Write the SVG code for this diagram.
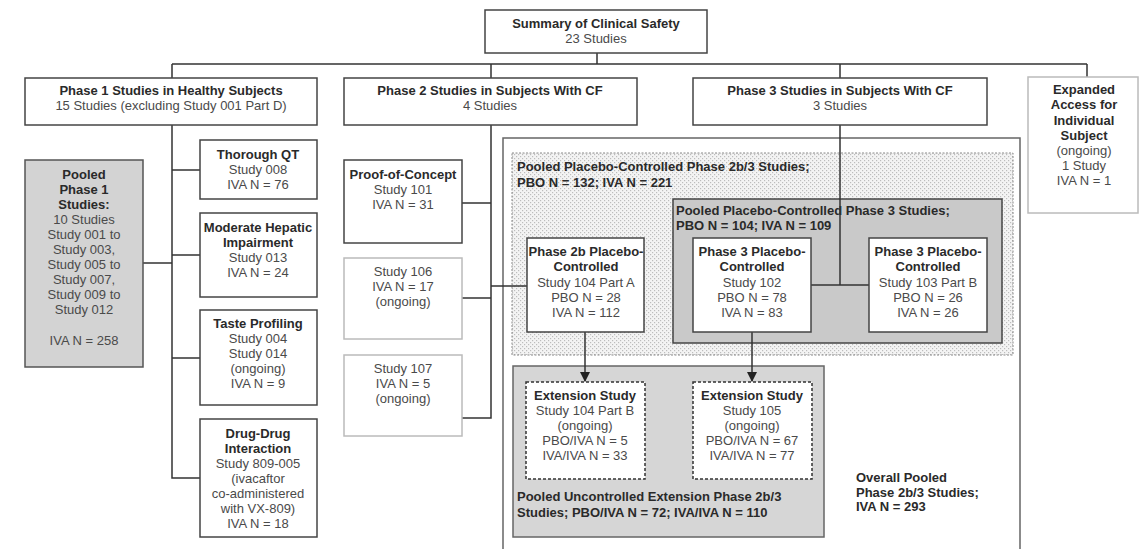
<svg xmlns="http://www.w3.org/2000/svg" width="1139" height="549" viewBox="0 0 1139 549">
<defs>
<pattern id="dots" width="4" height="4" patternUnits="userSpaceOnUse">
<rect width="4" height="4" fill="#f4f4f4"/>
<rect x="0" y="0" width="1.2" height="1.2" fill="#bdbdbd"/>
<rect x="2" y="2" width="1.2" height="1.2" fill="#bdbdbd"/>
</pattern>
<marker id="arr" viewBox="0 0 10 10" refX="9" refY="5" markerWidth="7" markerHeight="7" orient="auto">
<path d="M0,0 L10,5 L0,10 z" fill="#222"/>
</marker>
</defs>
<style>
text{font-family:"Liberation Sans",Arial,sans-serif;font-size:13px;fill:#4a4a4a;text-anchor:middle}
.b{font-weight:bold;fill:#2a2a2a}
.l{text-anchor:start}
.box{fill:#fff;stroke:#444;stroke-width:1.5}
.lt{fill:#fff;stroke:#bbb;stroke-width:1.5}
.grey{fill:#d3d3d3;stroke:#555;stroke-width:1.5}
.ln{fill:none;stroke:#333;stroke-width:1.5}
.dash{fill:#fff;stroke:#333;stroke-width:1.5;stroke-dasharray:3,2}
</style>
<rect width="1139" height="549" fill="#fff"/>

<g id="overall-pooled">
<path d="M503,549 V138 H1020 V549" fill="none" stroke="#666" stroke-width="1.5"/>
<text class="b l" x="856" y="482">Overall Pooled</text>
<text class="b l" x="856" y="497">Phase 2b/3 Studies;</text>
<text class="b l" x="856" y="511">IVA N = 293</text>
</g>

<g id="pooled-pc-2b3">
<rect x="512" y="153" width="501" height="202" fill="url(#dots)" stroke="#888" stroke-width="1" stroke-dasharray="2,1.5"/>
<text class="b l" x="517" y="171">Pooled Placebo-Controlled Phase 2b/3 Studies;</text>
<text class="b l" x="517" y="187">PBO N = 132; IVA N = 221</text>
</g>

<g id="pooled-pc-3">
<rect x="673" y="199" width="329" height="144" fill="#c9c9c9" stroke="#444" stroke-width="1.5"/>
<text class="b l" x="676" y="215">Pooled Placebo-Controlled Phase 3 Studies;</text>
<text class="b l" x="676" y="230">PBO N = 104; IVA N = 109</text>
</g>

<g id="pooled-ext">
<rect x="513" y="366" width="311" height="171" fill="#d6d6d6" stroke="#666" stroke-width="1.5"/>
<text class="b l" x="517" y="501">Pooled Uncontrolled Extension Phase 2b/3</text>
<text class="b l" x="517" y="517">Studies; PBO/IVA N = 72; IVA/IVA N = 110</text>
</g>

<g id="connectors">
<path class="ln" d="M597,53 V64 M172,64 H1087 M172,64 V78 M491,64 V78 M840,64 V78 M1087,64 V77"/>
<path class="ln" d="M172,125 V478 H200 M172,170 H200 M172,255 H200 M172,358 H200 M143,263 H172"/>
<path class="ln" d="M491,125 V418 H462 M462,203 H491 M462,298 H491 M491,286 H527"/>
<path class="ln" d="M840,125 V285 M811,285 H869"/>
<path class="ln" d="M585,332 V381" marker-end="url(#arr)"/>
<path class="ln" d="M752,332 V381" marker-end="url(#arr)"/>
</g>

<g id="summary">
<rect class="box" x="485" y="10" width="222" height="43"/>
<text class="b" x="596" y="28">Summary of Clinical Safety</text>
<text x="596" y="43">23 Studies</text>
</g>

<g id="phase1">
<rect class="box" x="25" y="78" width="292" height="47"/>
<text class="b" x="171" y="95">Phase 1 Studies in Healthy Subjects</text>
<text x="171" y="110">15 Studies (excluding Study 001 Part D)</text>
</g>

<g id="phase2">
<rect class="box" x="344" y="78" width="293" height="47"/>
<text class="b" x="490" y="95">Phase 2 Studies in Subjects With CF</text>
<text x="490" y="110">4 Studies</text>
</g>

<g id="phase3">
<rect class="box" x="693" y="78" width="294" height="47"/>
<text class="b" x="840" y="95">Phase 3 Studies in Subjects With CF</text>
<text x="840" y="110">3 Studies</text>
</g>

<g id="expanded">
<rect class="lt" x="1028" y="77" width="110" height="136"/>
<text class="b" x="1084" y="94">Expanded</text>
<text class="b" x="1084" y="109">Access for</text>
<text class="b" x="1084" y="125">Individual</text>
<text class="b" x="1084" y="140">Subject</text>
<text x="1084" y="155">(ongoing)</text>
<text x="1084" y="170">1 Study</text>
<text x="1084" y="185">IVA N = 1</text>
</g>

<g id="pooled-phase1">
<rect class="grey" x="25" y="160" width="118" height="207"/>
<text class="b" x="84" y="179">Pooled</text>
<text class="b" x="84" y="194">Phase 1</text>
<text class="b" x="84" y="209">Studies:</text>
<text x="84" y="224">10 Studies</text>
<text x="84" y="239">Study 001 to</text>
<text x="84" y="254">Study 003,</text>
<text x="84" y="269">Study 005 to</text>
<text x="84" y="284">Study 007,</text>
<text x="84" y="299">Study 009 to</text>
<text x="84" y="314">Study 012</text>
<text x="84" y="345">IVA N = 258</text>
</g>

<g id="thorough-qt">
<rect class="box" x="200" y="140" width="117" height="59"/>
<text class="b" x="258" y="159">Thorough QT</text>
<text x="258" y="174">Study 008</text>
<text x="258" y="189">IVA N = 76</text>
</g>

<g id="hepatic">
<rect class="box" x="200" y="213" width="117" height="84"/>
<text class="b" x="258" y="232">Moderate Hepatic</text>
<text class="b" x="258" y="247">Impairment</text>
<text x="258" y="262">Study 013</text>
<text x="258" y="277">IVA N = 24</text>
</g>

<g id="taste">
<rect class="box" x="200" y="310" width="117" height="95"/>
<text class="b" x="258" y="328">Taste Profiling</text>
<text x="258" y="343">Study 004</text>
<text x="258" y="358">Study 014</text>
<text x="258" y="373">(ongoing)</text>
<text x="258" y="388">IVA N = 9</text>
</g>

<g id="ddi">
<rect class="box" x="200" y="419" width="117" height="118"/>
<text class="b" x="258" y="438">Drug-Drug</text>
<text class="b" x="258" y="453">Interaction</text>
<text x="258" y="468">Study 809-005</text>
<text x="258" y="483">(ivacaftor</text>
<text x="258" y="498">co-administered</text>
<text x="258" y="513">with VX-809)</text>
<text x="258" y="528">IVA N = 18</text>
</g>

<g id="poc">
<rect class="box" x="344" y="160" width="118" height="83"/>
<text class="b" x="403" y="179">Proof-of-Concept</text>
<text x="403" y="194">Study 101</text>
<text x="403" y="209">IVA N = 31</text>
</g>

<g id="study106">
<rect class="lt" x="344" y="258" width="118" height="81"/>
<text x="403" y="276">Study 106</text>
<text x="403" y="291">IVA N = 17</text>
<text x="403" y="306">(ongoing)</text>
</g>

<g id="study107">
<rect class="lt" x="344" y="355" width="118" height="81"/>
<text x="403" y="373">Study 107</text>
<text x="403" y="388">IVA N = 5</text>
<text x="403" y="403">(ongoing)</text>
</g>

<g id="phase2b">
<rect class="box" x="527" y="238" width="117" height="94"/>
<text class="b" x="586" y="256">Phase 2b Placebo-</text>
<text class="b" x="586" y="271">Controlled</text>
<text x="586" y="287">Study 104 Part A</text>
<text x="586" y="302">PBO N = 28</text>
<text x="586" y="317">IVA N = 112</text>
</g>

<g id="study102">
<rect class="box" x="693" y="238" width="118" height="94"/>
<text class="b" x="752" y="256">Phase 3 Placebo-</text>
<text class="b" x="752" y="271">Controlled</text>
<text x="752" y="287">Study 102</text>
<text x="752" y="302">PBO N = 78</text>
<text x="752" y="317">IVA N = 83</text>
</g>

<g id="study103">
<rect class="box" x="869" y="238" width="118" height="94"/>
<text class="b" x="928" y="256">Phase 3 Placebo-</text>
<text class="b" x="928" y="271">Controlled</text>
<text x="928" y="287">Study 103 Part B</text>
<text x="928" y="302">PBO N = 26</text>
<text x="928" y="317">IVA N = 26</text>
</g>

<g id="ext104">
<rect class="dash" x="526" y="382" width="119" height="97"/>
<text class="b" x="585" y="400">Extension Study</text>
<text x="585" y="415">Study 104 Part B</text>
<text x="585" y="430">(ongoing)</text>
<text x="585" y="445">PBO/IVA N = 5</text>
<text x="585" y="460">IVA/IVA N = 33</text>
</g>

<g id="ext105">
<rect class="dash" x="693" y="382" width="119" height="97"/>
<text class="b" x="752" y="400">Extension Study</text>
<text x="752" y="415">Study 105</text>
<text x="752" y="430">(ongoing)</text>
<text x="752" y="445">PBO/IVA N = 67</text>
<text x="752" y="460">IVA/IVA N = 77</text>
</g>
</svg>
